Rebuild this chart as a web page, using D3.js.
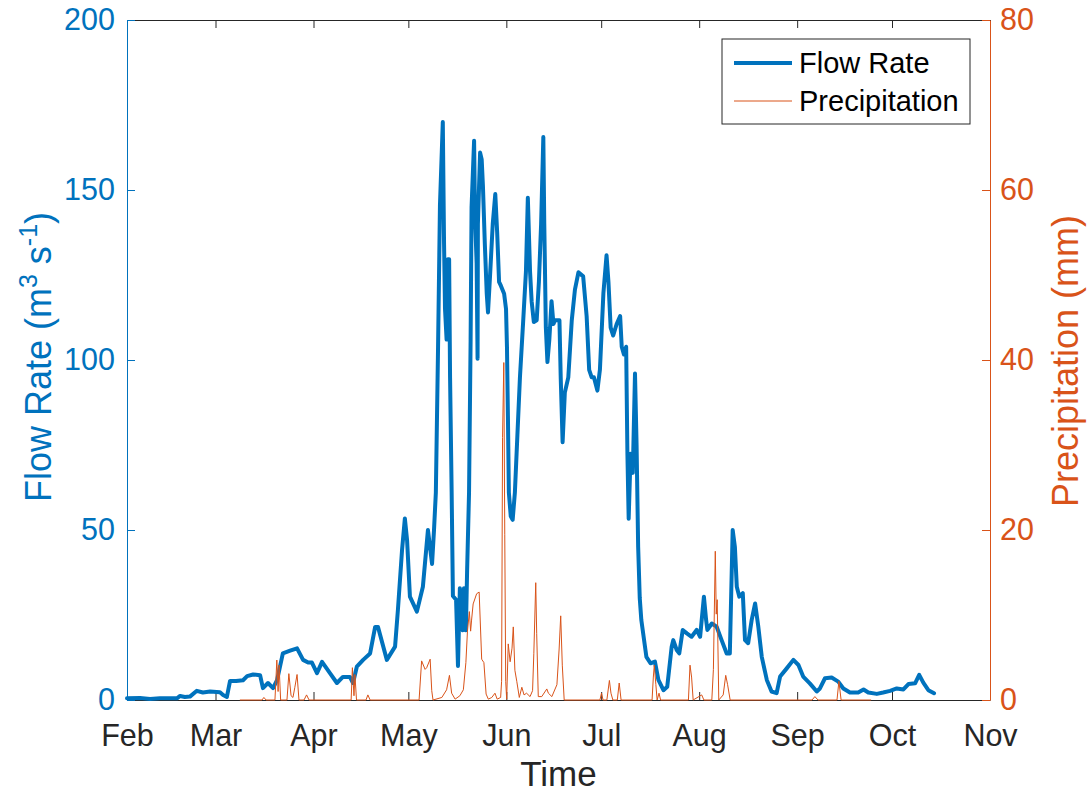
<!DOCTYPE html>
<html><head><meta charset="utf-8">
<script src="https://cdn.jsdelivr.net/npm/d3@7"></script>
<style>
body{margin:0;background:#fff}
svg{display:block}
text{font-family:"Liberation Sans",Arial,Helvetica,sans-serif}
</style>
</head><body>
<svg id="c" width="1089" height="794"></svg>
<script>
// ---------------- data ----------------
const startYear = 2019;               // non-leap year, Feb 1 .. Nov 1
const monthLabels = ["Feb","Mar","Apr","May","Jun","Jul","Aug","Sep","Oct","Nov"];
const flowTicks = [0,50,100,150,200];
const precipTicks = [0,20,40,60,80];
const seriesNames = ["Flow Rate","Precipitation"];

// [days after Feb 1, flow rate m3/s]
const flowSeries = [
[0,0.5],[4.1,0.6],[7.3,0.3],[10.4,0.5],[15.8,0.5],[16.8,1.2],[18.3,0.9],[19.9,1.0],[22.1,2.7],[24.0,2.2],
[26.3,2.5],[29.4,2.3],[30.4,1.5],[31.6,0.9],[32.6,5.6],[34.5,5.6],[36.7,5.8],[38.0,7.0],[39.9,7.5],[42.1,7.3],
[43.0,3.5],[44.6,5.0],[46.2,3.5],[47.5,5.9],[49.3,13.7],[51.6,14.5],[53.8,15.2],[55.7,11.8],[57.3,11.0],[58.5,11.0],
[60.1,7.9],[61.7,11.2],[64.2,7.9],[66.4,5.0],[68.3,6.8],[70.5,6.8],[71.5,5.0],[72.7,9.8],[74.7,11.8],[76.9,13.7],
[78.5,21.5],[79.4,21.5],[82.2,11.8],[84.8,15.7],[85.7,26.5],[87.0,44],[87.9,53.4],[88.6,47],[89.5,30.4],[91.7,26],
[93.6,33.3],[95.2,50],[96.5,40],[97.1,49.7],[97.7,61],[98.4,103.8],[99.0,145.4],[99.9,170],[100.3,134],[100.6,115],
[101.1,106],[101.5,129.6],[101.9,129.6],[102.2,94.8],[102.7,61],[103.1,30.6],[104.1,29.5],[104.7,10],[105.3,32.9],[106.2,20.5],
[106.6,32.9],[107.2,20.5],[107.6,38.5],[108.2,61],[108.7,106],[109.0,145],[109.8,164.5],[110.1,142],[110.6,128.5],[110.9,100.4],
[111.0,140],[111.7,161],[112.2,159],[112.6,151],[113.2,134],[113.8,119.5],[114.2,114],[114.8,124],[115.7,140],[116.5,148.8],
[117.1,137.5],[117.7,123],[118.3,121.8],[119.3,119.5],[119.9,115],[120.2,103.8],[120.5,83.5],[120.8,61],[121.4,54],[122.0,53],
[122.7,61],[123.5,78],[124.3,94.8],[125.3,111],[126.2,126],[126.8,147.7],[127.5,126],[128.0,117.3],[128.7,111.2],[129.6,111.7],
[130.3,123],[131.0,140],[131.7,165.6],[132.0,140],[132.5,109.5],[133.0,99.4],[133.6,106],[134.3,117.3],[134.9,110.6],[135.4,111.7],
[136.8,111.7],[137.2,94.9],[137.8,75.8],[138.5,90.4],[139.6,94.9],[140.7,111.7],[141.7,120.7],[142.8,125.8],[144.3,124.6],[145.4,112.9],
[146.2,97.1],[147.0,94.9],[147.7,94.9],[148.8,91],[149.6,97.1],[150.7,119.6],[151.7,130.8],[152.3,123],[153.0,109.5],[153.8,107.2],
[154.9,110.6],[156.0,112.9],[156.5,103.9],[157.2,101.6],[157.9,103.9],[158.3,72.4],[158.7,53.3],[159.3,72.4],[160.0,66.8],[160.7,96],
[161.2,75],[161.7,45],[162.2,30],[162.7,23.5],[164.3,12.7],[165.6,10.8],[167.0,11.3],[168.1,5.9],[169.7,2.9],[170.9,3.9],
[172.3,15.7],[172.8,17.6],[173.9,14.7],[174.7,13.7],[175.8,20.6],[177.1,19.6],[178.6,18.6],[180.2,20.6],[181.3,18.6],[182.5,30.4],
[183.2,23.5],[183.6,20.6],[185.0,22.5],[186.5,21.6],[188.1,17.6],[189.7,13.7],[190.7,13.7],[191.6,50],[192.3,45],[192.9,33.3],
[193.7,30.4],[194.8,31.4],[195.5,17.6],[196.5,16.7],[197.6,23.5],[198.7,28.4],[199.7,21.6],[200.8,12.7],[202.4,5.9],[203.9,2.5],
[205.5,2.0],[206.6,6.9],[208.7,9.3],[210.8,11.8],[212.4,10.3],[213.9,6.9],[216.0,4.9],[218.2,2.5],[219.2,3.4],[220.8,6.4],
[222.9,6.6],[225.0,5.4],[226.6,3.4],[228.7,2.2],[231.3,2.2],[233.0,3.1],[234.5,2.2],[237.2,1.8],[239.2,2.2],[241.4,2.7],
[243.5,3.4],[245.6,3.1],[247.2,4.7],[249.3,4.9],[250.6,7.4],[251.9,5.1],[253.5,2.9],[255.3,2.0]
];

// [days after Feb 1, precipitation mm]
const precipSeries = [
[35.7,0],[42.7,0],[43.3,0.3],[44.0,0],[46.8,0],[47.4,4.7],[47.8,1.0],[48.1,4.1],[48.6,0],[50.6,0],
[51.2,3.1],[51.9,0.5],[52.5,0.3],[53.1,1.5],[53.8,3.0],[54.4,0],[56.0,0],[56.8,0.6],[57.6,0],[70.9,0],
[71.3,3.8],[71.8,0.5],[72.1,3.0],[72.6,0],[75.6,0],[76.2,0.6],[76.9,0],[92.4,0],[93.2,4.6],[94.3,3.6],
[94.8,3.8],[95.9,4.8],[96.4,1.1],[96.8,0],[99.6,0.3],[101.1,1.2],[102.0,2.9],[102.7,0.8],[103.8,0.1],[105.3,0.5],
[106.4,1.2],[107.2,4.4],[107.7,8.1],[108.3,10.4],[108.7,8.1],[109.0,9.4],[109.5,11.3],[110.6,12.5],[111.4,12.7],[112.2,4.8],
[112.9,4.4],[113.6,0.7],[114.3,0.1],[115.4,0.3],[116.4,0.8],[117.1,0.1],[118.2,0.3],[118.5,2.2],[118.8,30.9],[119.2,39.7],
[119.5,19.5],[119.8,2.2],[120.1,0.1],[120.6,6.6],[121.2,4.5],[121.8,6.1],[122.2,8.6],[122.7,3.5],[123.3,2.2],[124.1,0.3],
[124.9,1.5],[125.6,0.6],[126.4,0.8],[127.5,0.4],[128.3,1.1],[128.7,5.5],[129.3,13.8],[129.6,7.8],[130.1,0.4],[131.2,0.4],
[132.8,1.3],[133.3,0.8],[134.4,0.4],[136.0,1.8],[136.7,6],[137.2,9.9],[137.7,4.1],[138.3,0],[149.6,0],[150.1,0.8],
[150.6,0],[151.8,0],[152.6,2.3],[153.1,0.8],[153.7,0],[155.1,0],[155.7,2.0],[156.3,0],[166.1,0],[166.5,2.7],
[166.8,4.1],[167.3,1.8],[167.7,0],[168.3,0.8],[168.8,0],[177.6,0],[178.1,4.1],[178.6,2.7],[179.1,0],[181.8,0.6],
[182.5,0],[185.0,0],[185.5,3.6],[186.1,17.5],[186.4,10.1],[186.7,11.8],[187.2,0],[188.6,0.6],[189.4,2.9],[190.0,1.8],
[190.8,0],[216.7,0],[217.6,0.4],[218.6,0],[224.6,0],[225.2,2.2],[225.9,0],[235.4,0]
];

// ---------------- drawing ----------------
const blue = "#0072BD", orange = "#D95319", dark = "#262626";
const L = 127, R = 990, T = 20, B = 700;
const t0 = Date.UTC(startYear, 1, 1);
const toDate = d => new Date(t0 + d * 864e5);
const monthDates = monthLabels.map((m, i) => new Date(Date.UTC(startYear, 1 + i, 1)));

const x = d3.scaleUtc().domain([monthDates[0], monthDates[monthDates.length - 1]]).range([L, R]);
const yL = d3.scaleLinear().domain([0, 200]).range([B, T]);
const yR = d3.scaleLinear().domain([0, 80]).range([B, T]);

const svg = d3.select("#c");
svg.append("rect").attr("width", 1089).attr("height", 794).attr("fill", "#fff");

const tickFont = 30.5;
const labelFont = 36;
const ff = '"Liberation Sans",Arial,sans-serif';

// bottom axis
const gb = svg.append("g").attr("transform", `translate(0,${B})`)
  .call(d3.axisBottom(x).tickValues(monthDates).tickFormat((d, i) => monthLabels[i]).tickSize(-8).tickSizeOuter(0).tickPadding(24));
gb.select(".domain").attr("stroke", dark);
gb.selectAll(".tick line").attr("stroke", dark);
gb.selectAll(".tick text").attr("fill", dark).attr("font-size", tickFont).attr("font-family", ff);

// top axis (box)
const gt = svg.append("g").attr("transform", `translate(0,${T})`)
  .call(d3.axisTop(x).tickValues(monthDates).tickFormat("").tickSize(-8).tickSizeOuter(0));
gt.select(".domain").attr("stroke", dark);
gt.selectAll(".tick line").attr("stroke", dark);

// left axis
const gl = svg.append("g").attr("transform", `translate(${L},0)`)
  .call(d3.axisLeft(yL).tickValues(flowTicks).tickSize(-8).tickSizeOuter(0).tickPadding(12));
gl.select(".domain").attr("stroke", blue);
gl.selectAll(".tick line").attr("stroke", blue);
gl.selectAll(".tick text").attr("fill", blue).attr("font-size", tickFont).attr("font-family", ff);

// right axis
const gr = svg.append("g").attr("transform", `translate(${R},0)`)
  .call(d3.axisRight(yR).tickValues(precipTicks).tickSize(-8).tickSizeOuter(0).tickPadding(10));
gr.select(".domain").attr("stroke", orange);
gr.selectAll(".tick line").attr("stroke", orange);
gr.selectAll(".tick text").attr("fill", orange).attr("font-size", tickFont).attr("font-family", ff);

// lines
const flowLine = d3.line().x(d => x(toDate(d[0]))).y(d => yL(d[1]));
const precipLine = d3.line().x(d => x(toDate(d[0]))).y(d => yR(d[1]));

svg.append("path").datum(flowSeries).attr("d", flowLine)
  .attr("fill", "none").attr("stroke", blue).attr("stroke-width", 4)
  .attr("stroke-linejoin", "round").attr("stroke-linecap", "round");
svg.append("path").datum(precipSeries).attr("d", precipLine)
  .attr("fill", "none").attr("stroke", orange).attr("stroke-width", 1);

// axis labels
svg.append("text").attr("x", (L + R) / 2).attr("y", 786).attr("text-anchor", "middle")
  .attr("font-size", 35).attr("fill", dark).text("Time");

const ll = svg.append("text").attr("transform", "translate(51,357) rotate(-90)")
  .attr("text-anchor", "middle").attr("font-size", labelFont).attr("fill", blue);
ll.append("tspan").text("Flow Rate (m");
ll.append("tspan").attr("dy", -14).attr("font-size", 25).text("3");
ll.append("tspan").attr("dy", 14).text(" s");
ll.append("tspan").attr("dy", -14).attr("font-size", 25).text("-1");
ll.append("tspan").attr("dy", 14).text(")");

svg.append("text").attr("transform", "translate(1078,361) rotate(-90)")
  .attr("text-anchor", "middle").attr("font-size", labelFont).attr("fill", orange)
  .text("Precipitation (mm)");

// legend
const lg = svg.append("g");
lg.append("rect").attr("x", 722).attr("y", 39).attr("width", 248).attr("height", 85)
  .attr("fill", "#fff").attr("stroke", dark).attr("stroke-width", 1);
const legendItems = [
  {name: seriesNames[0], color: blue, w: 4, y: 63},
  {name: seriesNames[1], color: orange, w: 1, y: 101}
];
legendItems.forEach(it => {
  lg.append("line").attr("x1", 734).attr("x2", 792).attr("y1", it.y).attr("y2", it.y)
    .attr("stroke", it.color).attr("stroke-width", it.w);
  lg.append("text").attr("x", 799).attr("y", it.y).attr("dy", "0.35em")
    .attr("font-size", 29).attr("fill", "#000").text(it.name);
});
</script>
</body></html>
